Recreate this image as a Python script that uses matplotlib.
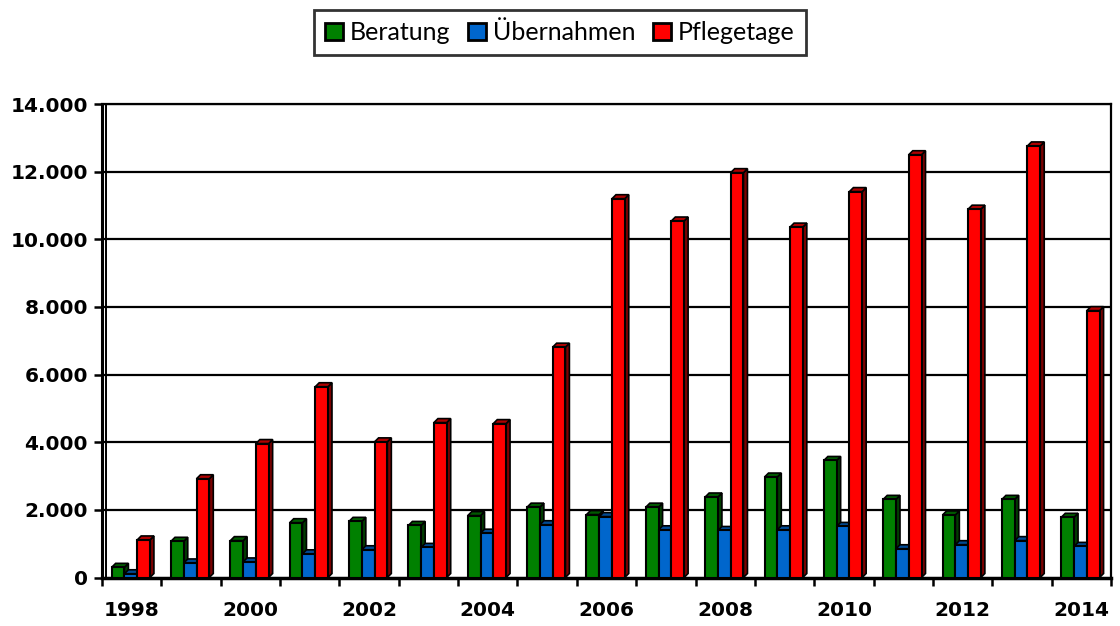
import numpy as np
import matplotlib
matplotlib.use("Agg")
import matplotlib.pyplot as plt
from matplotlib.patches import Rectangle, Polygon, Patch

# --- data ---
years = list(range(1998, 2015))
beratung = [300, 1070, 1090, 1620, 1660, 1540, 1830, 2080, 1860, 2080,
            2380, 2970, 3460, 2310, 1850, 2310, 1780]
uebernahmen = [110, 430, 460, 700, 820, 890, 1310, 1560, 1800, 1410,
               1390, 1410, 1510, 850, 970, 1090, 920]
pflegetage = [1110, 2920, 3960, 5640, 4010, 4580, 4550, 6810, 11200, 10540,
              11970, 10360, 11410, 12500, 10890, 12760, 7890]

series = [("Beratung", beratung), ("Übernahmen", uebernahmen), ("Pflegetage", pflegetage)]
# front, side, top colours
colors = [("#008000", "#003d00", "#005a00"),
          ("#0066cc", "#00305f", "#004a94"),
          ("#ff0000", "#7a0000", "#b00000")]

plt.rcParams["font.family"] = ["Lato", "DejaVu Sans"]
tick_font = ["DejaVu Sans"]

fig = plt.figure(figsize=(11.2, 6.26), dpi=100)
W, H = 1120, 626
left, right, bottom, top = 102, 1111, 577.5, 104
ax = fig.add_axes([left / W, (H - bottom) / H, (right - left) / W, (bottom - top) / H])

n = len(years)
ymax = 14000
ax.set_xlim(-0.5, n - 0.5)
ax.set_ylim(0, ymax)

# depth of the fake 3D bars, in pixels -> data units
px_x = (right - left) / n
px_y = (bottom - top) / ymax
dx = 4.0 / px_x
dy = 4.0 / px_y

width = 0.215
offsets = [-0.23, -0.015, 0.20]

x = np.arange(n)
for i in range(n):
    for (name, vals), (cf, cs, ct), off in zip(series, colors, offsets):
        h = vals[i]
        x0 = x[i] + off - width / 2
        side = Polygon([(x0 + width, 0), (x0 + width + dx, dy),
                        (x0 + width + dx, h + dy), (x0 + width, h)],
                       closed=True, facecolor=cs, edgecolor="black", lw=1.2, zorder=3)
        topf = Polygon([(x0, h), (x0 + dx, h + dy), (x0 + width + dx, h + dy),
                        (x0 + width, h)],
                       closed=True, facecolor=ct, edgecolor="black", lw=1.2, zorder=3)
        front = Rectangle((x0, 0), width, h, facecolor=cf, edgecolor="black",
                          lw=1.5, zorder=3)
        ax.add_patch(side)
        ax.add_patch(topf)
        ax.add_patch(front)

# grid on the back wall
yt = np.arange(0, ymax + 1, 2000)
for v in yt[1:]:
    ax.axhline(v, color="black", lw=1.6, zorder=1)

ax.set_yticks(yt)
ax.set_yticklabels([f"{v:,}".replace(",", ".") for v in yt])

# ticks at category boundaries, labels at every second year
ax.set_xticks(np.arange(-0.5, n, 1.0))
ax.set_xticklabels([])
ax.set_xticks(x[::2], minor=True)
ax.set_xticklabels([str(years[i]) for i in range(0, n, 2)], minor=True)
ax.tick_params(axis="x", which="major", direction="out", length=6, width=1.8)
ax.tick_params(axis="x", which="minor", length=0, pad=17)
ax.tick_params(axis="y", direction="out", length=6, width=1.8, pad=4)

for lbl in ax.get_xticklabels(minor=True) + ax.get_yticklabels():
    lbl.set_family(tick_font)
    lbl.set_fontweight("bold")
    lbl.set_fontsize(14.5)

for s in ax.spines.values():
    s.set_color("black")
ax.spines["left"].set_linewidth(2.2)
ax.spines["bottom"].set_linewidth(2.5)
ax.spines["right"].set_linewidth(1.6)
ax.spines["top"].set_linewidth(1.6)
# inner edge of the side wall
ax.axvline(-0.5 + 3.5 / px_x, color="black", lw=1.4, zorder=1)

handles = [Patch(facecolor=c[0], edgecolor="black", lw=2) for c in colors]
leg = fig.legend(handles, [s[0] for s in series], loc="center",
                 bbox_to_anchor=(0.5, 1 - 32.5 / H), ncol=3, fontsize=18,
                 frameon=True, fancybox=False, handlelength=0.7, handleheight=0.7,
                 handletextpad=0.3, columnspacing=0.7, borderpad=0.45)
leg.get_frame().set_edgecolor("black")
leg.get_frame().set_linewidth(2)

fig.savefig("out.png", dpi=100)
plt.close(fig)
